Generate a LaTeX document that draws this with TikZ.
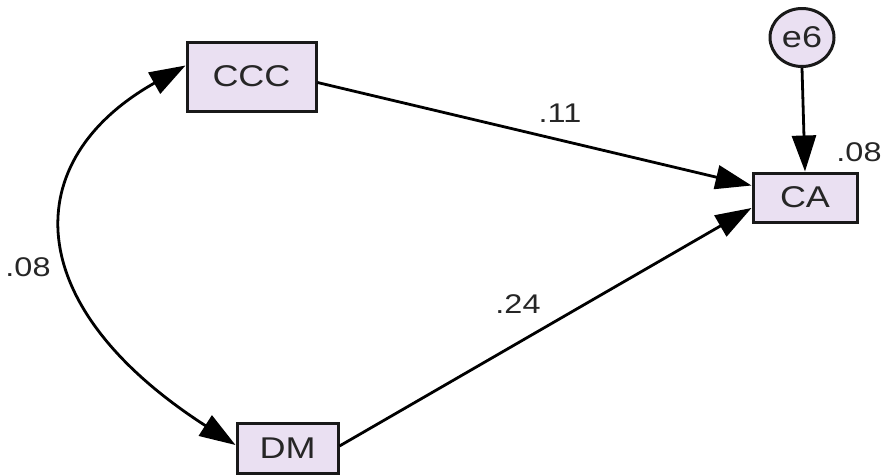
\documentclass[tikz,border=0pt]{standalone}
\usepackage{fontspec}
\setmainfont{Liberation Sans}
\usetikzlibrary{arrows.meta,calc,shapes.geometric}
\definecolor{boxfill}{RGB}{234,224,242}
\newcommand{\wide}[1]{\scalebox{1.2}[1]{#1}}
\tikzset{
  var/.style={draw=black!90, line width=3pt, fill=boxfill, font=\fontsize{30}{30}\selectfont, text=black!85, inner sep=0pt},
  errv/.style={draw=black!90, line width=3pt, fill=boxfill, ellipse, font=\fontsize{30}{30}\selectfont, text=black!85, inner sep=0pt, minimum width=64pt, minimum height=58pt},
  path/.style={line width=2.8pt, -{Triangle[length=36pt,width=24pt]}},
  lbl/.style={font=\fontsize{27}{27}\selectfont, text=black!85}
}
\begin{document}
\begin{tikzpicture}[x=1pt,y=-1pt]
\useasboundingbox (0,0) rectangle (884,475);
\fill[white] (0,0) rectangle (884,475);
\node[var, minimum width=129pt, minimum height=69pt] (ccc) at (251.5,76.5) {\wide{CCC}};
\node[var, minimum width=104pt, minimum height=49pt] (ca) at (805,197.5) {\wide{CA}};
\node[var, minimum width=101pt, minimum height=50pt] (dm) at (287.5,448) {\wide{DM}};
\node[errv] (e6) at (802,37.5) {\wide{e6}};
\draw[path] ($(ccc.east)+(0,6)$) -- ($(ca.west)+(0,-12)$);
\draw[path] ($(dm.east)+(0,-2)$) -- ($(ca.west)+(0,10.5)$);
\draw[path] (e6.south) -- (ca.north);
\draw[line width=2.8pt, {Triangle[length=36pt,width=24pt]}-{Triangle[length=36pt,width=24pt]}]
  ($(ccc.west)+(0,-11)$) .. controls (18,160) and (18,305) .. ($(dm.west)+(0,-3)$);
\node[lbl] (l11) at (560,113) {\wide{.11}};
\node[lbl] (l24) at (518,304) {\wide{.24}};
\node[lbl] (l08a) at (28,267) {\wide{.08}};
\node[lbl] (l08b) at (859,152) {\wide{.08}};
\end{tikzpicture}
\end{document}
